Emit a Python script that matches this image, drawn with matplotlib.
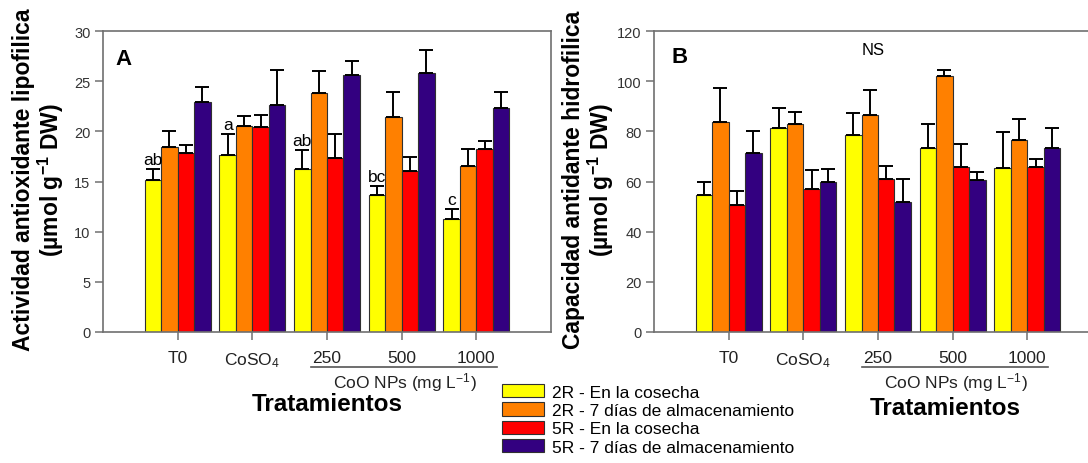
import numpy as np
import matplotlib
matplotlib.use("Agg")
import matplotlib.pyplot as plt

plt.rcParams['font.family'] = ['Liberation Sans', 'DejaVu Sans']
plt.rcParams['mathtext.fontset'] = 'custom'
plt.rcParams['mathtext.rm'] = 'Liberation Sans'
plt.rcParams['mathtext.it'] = 'Liberation Sans:italic'
plt.rcParams['mathtext.bf'] = 'Liberation Sans:bold'

# ---------------- data ----------------
groups = ["T0", "CoSO$_4$", "250", "500", "1000"]
series = ["2R - En la cosecha", "2R - 7 días de almacenamiento",
          "5R - En la cosecha", "5R - 7 días de almacenamiento"]
colors = ["#ffff00", "#ff8000", "#ff0000", "#330080"]

# panel A : lipophilic antioxidant activity (mean, upper end of error bar)
a_2r_h = [15.1, 17.6, 16.2, 13.7, 11.3]
a_2r_h_top = [16.25, 19.7, 18.1, 14.6, 12.3]
a_2r_7 = [18.4, 20.5, 23.8, 21.4, 16.5]
a_2r_7_top = [20.0, 21.5, 26.0, 23.9, 18.2]
a_5r_h = [17.8, 20.4, 17.3, 16.05, 18.2]
a_5r_h_top = [18.65, 21.6, 19.7, 17.4, 19.0]
a_5r_7 = [22.9, 22.6, 25.6, 25.8, 22.3]
a_5r_7_top = [24.4, 26.1, 27.0, 28.1, 23.9]
a_letters = ["ab", "a", "ab", "bc", "c"]

# panel B : hydrophilic antioxidant capacity
b_2r_h = [54.7, 81.2, 78.7, 73.4, 65.4]
b_2r_h_top = [59.8, 89.3, 87.4, 82.8, 79.9]
b_2r_7 = [83.6, 82.9, 86.5, 101.9, 76.4]
b_2r_7_top = [97.1, 87.7, 96.5, 104.6, 85.1]
b_5r_h = [50.5, 56.9, 60.9, 65.8, 65.8]
b_5r_h_top = [56.1, 64.4, 66.0, 75.0, 68.8]
b_5r_7 = [71.2, 59.8, 52.0, 60.5, 73.4]
b_5r_7_top = [80.3, 64.8, 61.0, 63.9, 81.4]

A_means = [a_2r_h, a_2r_7, a_5r_h, a_5r_7]
A_tops = [a_2r_h_top, a_2r_7_top, a_5r_h_top, a_5r_7_top]
B_means = [b_2r_h, b_2r_7, b_5r_h, b_5r_7]
B_tops = [b_2r_h_top, b_2r_7_top, b_5r_h_top, b_5r_7_top]

W, H = 1088, 464
fig = plt.figure(figsize=(W / 100, H / 100), dpi=100)
axA = fig.add_axes([103 / W, 131 / H, 448 / W, 301 / H])
axB = fig.add_axes([654 / W, 131 / H, 448 / W, 301 / H])

x = np.arange(len(groups))
w = 0.22
spine_c = "#707070"


def draw(ax, means, tops, ymax, ystep):
    bars = []
    for k in range(4):
        m = np.array(means[k])
        up = np.array(tops[k]) - m
        b = ax.bar(x + (k - 1.5) * w, m, w, color=colors[k], edgecolor="#303030",
                   linewidth=0.8, yerr=[np.zeros_like(m), up], capsize=5,
                   error_kw=dict(elinewidth=1.4, capthick=1.4, ecolor="black"))
        bars.append(b)
    ax.set_xlim(-1, 5)
    ax.set_ylim(0, ymax)
    ax.set_yticks(np.arange(0, ymax + 1, ystep))
    ax.set_xticks(x)
    ax.set_xticklabels(groups, fontsize=12.5, color="#222222")
    ax.tick_params(axis="y", labelsize=10.5, labelcolor="#333333")
    ax.tick_params(direction="out", length=6, width=1.1, color=spine_c, pad=3)
    ax.tick_params(axis="x", pad=7)
    for s in ax.spines.values():
        s.set_color(spine_c)
        s.set_linewidth(1.2)
    tr = ax.get_xaxis_transform()
    ax.plot([1.79, 4.28], [-0.116, -0.116], color="#555555", lw=1.2,
            transform=tr, clip_on=False)
    ax.text(3.04, -0.166, "CoO NPs (mg L$^{-1}$)", transform=tr, ha="center",
            va="center", fontsize=12.5, color="#222222")
    return bars


barsA = draw(axA, A_means, A_tops, 30, 5)
draw(axB, B_means, B_tops, 120, 20)

# significance letters over the first series of panel A
for i, lab in enumerate(a_letters):
    axA.text(x[i] - 1.5 * w, a_2r_h_top[i] + 0.2, lab, ha="center", va="bottom",
             fontsize=12.5)

axB.text(0.49, 112.5, "NS", transform=axB.get_yaxis_transform(), ha="center",
         va="center", fontsize=12)

axA.text(0.045, 0.907, "A", transform=axA.transAxes, ha="center", va="center",
         fontsize=16, fontweight="bold")
axB.text(0.058, 0.915, "B", transform=axB.transAxes, ha="center", va="center",
         fontsize=16, fontweight="bold")

axA.text(2.0, -0.239, "Tratamientos", transform=axA.get_xaxis_transform(),
         ha="center", va="center", fontsize=17.5, fontweight="bold")
axB.text(2.9, -0.25, "Tratamientos", transform=axB.get_xaxis_transform(),
         ha="center", va="center", fontsize=17.5, fontweight="bold")

fig.text(39 / W, 1 - 180 / H,
         "Actividad antioxidante lipofilica\n(µmol g$^{\\mathbf{-1}}$ DW)",
         rotation=90, ha="center", va="center", multialignment="center",
         fontsize=16.5, fontweight="bold", linespacing=1.0)
fig.text(589 / W, 1 - 180 / H,
         "Capacidad antidante hidrofilica\n(µmol g$^{\\mathbf{-1}}$ DW)",
         rotation=90, ha="center", va="center", multialignment="center",
         fontsize=16.5, fontweight="bold", linespacing=1.0)

fig.legend(barsA, series, loc="upper left", bbox_to_anchor=(502 / W, 1 - 385 / H),
           frameon=False, fontsize=12.5, handlelength=2.4, handleheight=0.8,
           labelspacing=0.15, handletextpad=0.5, borderpad=0, borderaxespad=0)

fig.savefig("out.png", dpi=100)
